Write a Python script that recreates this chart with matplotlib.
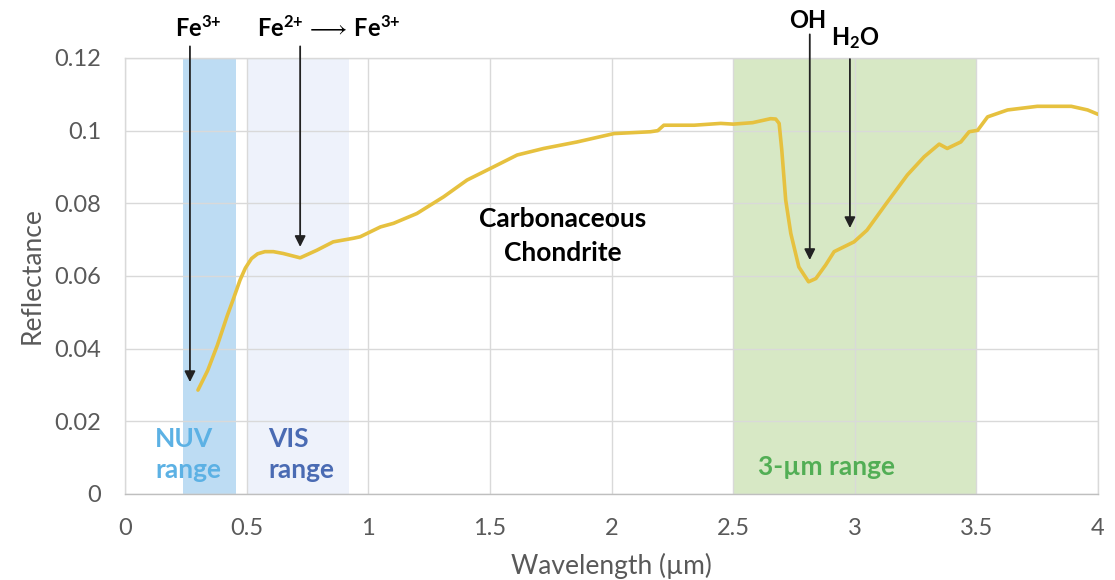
import matplotlib
matplotlib.use("Agg")
import matplotlib.pyplot as plt

plt.rcParams['font.family'] = ['Lato', 'DejaVu Sans']
plt.rcParams['mathtext.fontset'] = 'custom'
plt.rcParams['mathtext.rm'] = 'Lato'
plt.rcParams['mathtext.bf'] = 'Lato:bold'
plt.rcParams['mathtext.it'] = 'Lato:italic'

# Reflectance spectrum of a carbonaceous chondrite
wavelength = [0.30, 0.34, 0.38, 0.42, 0.444, 0.473, 0.495, 0.52, 0.545, 0.575, 0.61,
              0.65, 0.72, 0.789, 0.856, 0.94, 0.967, 1.05, 1.104, 1.20, 1.31, 1.406,
              1.502, 1.612, 1.721, 1.859, 2.01, 2.16, 2.19, 2.215, 2.34, 2.449, 2.50,
              2.58, 2.654, 2.675, 2.689, 2.70, 2.716, 2.737, 2.77, 2.81, 2.84, 2.88,
              2.915, 2.997, 3.05, 3.13, 3.216, 3.285, 3.347, 3.38, 3.436, 3.47, 3.505,
              3.546, 3.628, 3.75, 3.89, 3.957, 4.0]
reflectance = [0.0286, 0.0340, 0.0410, 0.0490, 0.0534, 0.0589, 0.0622, 0.0648, 0.0661,
               0.0667, 0.0667, 0.0662, 0.0650, 0.0671, 0.0694, 0.0704, 0.0708, 0.0735,
               0.0745, 0.0772, 0.0818, 0.0864, 0.0896, 0.0933, 0.0951, 0.0969, 0.0992,
               0.0997, 0.1000, 0.1015, 0.1015, 0.1020, 0.1018, 0.1022, 0.1033, 0.1032,
               0.1020, 0.0946, 0.0809, 0.0717, 0.0625, 0.0584, 0.0593, 0.0630, 0.0667,
               0.0694, 0.0726, 0.0800, 0.0878, 0.0928, 0.0963, 0.0951, 0.0969, 0.0997,
               0.1001, 0.1038, 0.1057, 0.1067, 0.1067, 0.1057, 0.1045]

# Spectral ranges (start, end) in µm
nuv_range = (0.24, 0.455)
vis_range = (0.50, 0.92)
ir_range = (2.50, 3.50)

x_ticks = [0, 0.5, 1, 1.5, 2, 2.5, 3, 3.5, 4]
x_tick_labels = ['0', '0.5', '1', '1.5', '2', '2.5', '3', '3.5', '4']
y_ticks = [0, 0.02, 0.04, 0.06, 0.08, 0.10, 0.12]
y_tick_labels = ['0', '0.02', '0.04', '0.06', '0.08', '0.1', '0.12']

# Absorption features: (x, arrow top, arrow tip)
fe3_arrow = (0.267, 0.1232, 0.0308)
fe2_arrow = (0.72, 0.1232, 0.0680)
oh_arrow = (2.815, 0.1265, 0.0644)
h2o_arrow = (2.98, 0.1197, 0.0732)

fig = plt.figure(figsize=(11.15, 5.80), dpi=100)
ax = fig.add_axes([0.1121, 0.1483, 0.8727, 0.7517])

ax.axvspan(*nuv_range, color='#bddcf3', lw=0, zorder=1)
ax.axvspan(*vis_range, color='#eef2fb', lw=0, zorder=1)
ax.axvspan(*ir_range, color='#d7e8c5', lw=0, zorder=1)

ax.plot(wavelength, reflectance, color='#e6c13f', lw=2.6, zorder=3,
        solid_capstyle='round', solid_joinstyle='round')

ax.set_xlim(0, 4)
ax.set_ylim(0, 0.12)
ax.set_xticks(x_ticks)
ax.set_xticklabels(x_tick_labels)
ax.set_yticks(y_ticks)
ax.set_yticklabels(y_tick_labels)
ax.tick_params(length=0, labelsize=17, colors='#595959')
ax.tick_params(axis='y', pad=17)
ax.tick_params(axis='x', pad=17)
ax.grid(True, color='#d9d9d9', lw=1.0, zorder=1.5)
for s in ax.spines.values():
    s.set_color('#d9d9d9')
    s.set_linewidth(1.0)
ax.spines['bottom'].set_color('#bfbfbf')
ax.set_xlabel('Wavelength (\u00b5m)', fontsize=19, color='#595959', labelpad=10)
ax.set_ylabel('Reflectance', fontsize=19, color='#595959', labelpad=7)

arrow_props = dict(arrowstyle='-|>', color='#222222', lw=1.3, mutation_scale=16,
                   shrinkA=0, shrinkB=0)
for xa, ytop, ytip in (fe3_arrow, fe2_arrow, oh_arrow, h2o_arrow):
    ax.annotate('', xy=(xa, ytip), xytext=(xa, ytop), arrowprops=arrow_props,
                annotation_clip=False, zorder=4)

bold = dict(fontweight='bold', color='black', fontsize=17, ha='center', va='baseline')
ax.text(0.30, 0.1257, r'$\mathbf{Fe^{3{+}}}$', clip_on=False, **bold)
ax.text(0.8375, 0.1257, r'$\mathbf{Fe^{2{+}}}\,\longrightarrow\,\mathbf{Fe^{3{+}}}$',
        clip_on=False, **bold)
ax.text(2.807, 0.1282, 'OH', clip_on=False, **bold)
ax.text(3.004, 0.1235, r'$\mathbf{H_{2}O}$', clip_on=False, **bold)

big = dict(fontweight='bold', color='black', fontsize=19, ha='center', va='baseline')
ax.text(1.798, 0.0735, 'Carbonaceous', **big)
ax.text(1.798, 0.0641, 'Chondrite', **big)

rng = dict(fontweight='bold', fontsize=19, va='baseline')
ax.text(0.1235, 0.0129, 'NUV', color='#5cb1e4', ha='left', **rng)
ax.text(0.1235, 0.0044, 'range', color='#5cb1e4', ha='left', **rng)
ax.text(0.588, 0.0129, 'VIS', color='#4a6bb3', ha='left', **rng)
ax.text(0.588, 0.0044, 'range', color='#4a6bb3', ha='left', **rng)
ax.text(2.885, 0.0052, '3-\u00b5m range', color='#52ae55', ha='center', **rng)

fig.savefig('out.png', dpi=100)
